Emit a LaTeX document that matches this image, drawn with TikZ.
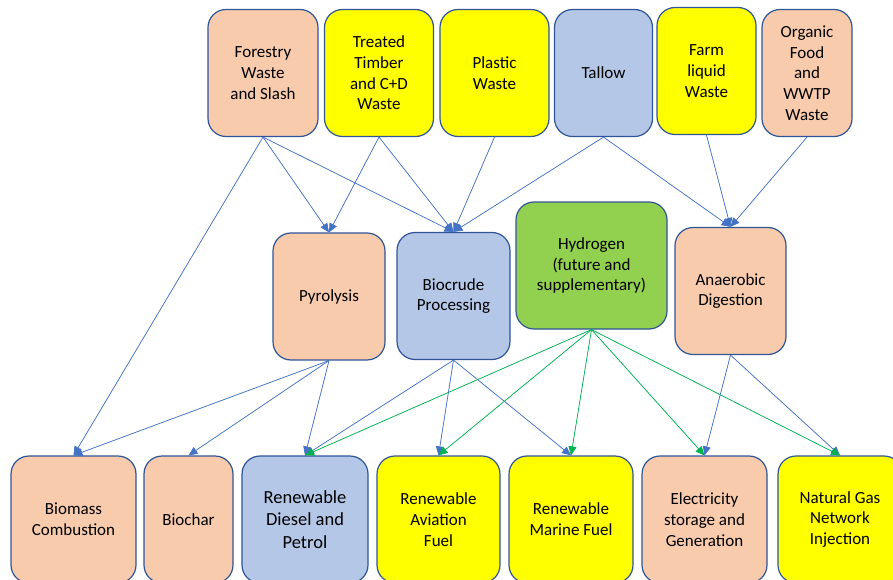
\documentclass[tikz,border=0pt]{standalone}
\usepackage{fontspec}
\setmainfont{Carlito}
\usepackage{xcolor}
\usepackage{tikz}
\usetikzlibrary{arrows.meta}

\definecolor{salmon}{RGB}{248,203,173}
\definecolor{lemon}{RGB}{255,255,0}
\definecolor{steel}{RGB}{180,199,231}
\definecolor{leaf}{RGB}{146,208,80}
\definecolor{edge}{RGB}{47,85,151}
\definecolor{flowblue}{RGB}{68,114,196}
\definecolor{flowgreen}{RGB}{0,176,80}

\begin{document}
\begin{tikzpicture}[
x=1pt,y=-1pt,
box/.style={draw=edge, line width=1.2pt, rounded corners=18pt, align=center,
  inner sep=0pt, minimum height=127pt, font=\fontsize{17}{20.7}\selectfont},
flow/.style={-{Triangle[length=9pt,width=8pt]}, draw=flowblue, fill=flowblue, line width=0.7pt},
hflow/.style={-{Triangle[length=9pt,width=8pt]}, draw=flowgreen, fill=flowgreen, line width=0.7pt}
]
\useasboundingbox (0,0) rectangle (893,580);

% feedstocks
\node[box, fill=salmon, minimum width=110pt] (forest) at (263,73) {Forestry\\Waste\\and Slash};
\node[box, fill=lemon, minimum width=109pt] (timber) at (379,73) {Treated\\Timber\\and C+D\\Waste};
\node[box, fill=lemon, minimum width=109pt] (plastic) at (494.5,73) {Plastic\\Waste};
\node[box, fill=steel, minimum width=98pt] (tallow) at (603.5,73) {Tallow};
\node[box, fill=lemon, minimum width=99pt] (farm) at (706.5,71) {Farm\\liquid\\Waste};
\node[box, fill=salmon, minimum width=90pt] (organic) at (807,73) {Organic\\Food\\and\\WWTP\\Waste};

% processes
\node[box, fill=salmon, minimum width=112pt] (pyro) at (329,296.5) {Pyrolysis};
\node[box, fill=steel, minimum width=113pt] (biocrude) at (453.5,296) {Biocrude\\Processing};
\node[box, fill=leaf, minimum width=151pt] (hydro) at (591.5,265.5) {Hydrogen\\(future and\\supplementary)};
\node[box, fill=salmon, minimum width=111pt] (anaer) at (730.5,291) {Anaerobic\\Digestion};

% products
\node[box, fill=salmon, minimum width=125pt] (biomass) at (73.5,519.5) {Biomass\\Combustion};
\node[box, fill=salmon, minimum width=89pt] (biochar) at (188.5,519.5) {Biochar};
\node[box, fill=steel, minimum width=126pt, font=\fontsize{18.5}{22.7}\selectfont] (diesel) at (305,519.5) {Renewable\\Diesel and\\Petrol};
\node[box, fill=lemon, minimum width=123pt] (aviation) at (438.5,519.5) {Renewable\\Aviation\\Fuel};
\node[box, fill=lemon, minimum width=124pt] (marine) at (571,519.5) {Renewable\\Marine Fuel};
\node[box, fill=salmon, minimum width=125pt] (elec) at (704.5,519.5) {Electricity\\storage and\\Generation};
\node[box, fill=lemon, minimum width=124pt] (natgas) at (840,519.5) {Natural Gas\\Network\\Injection};

% feedstock flows
\draw[flow] (forest.south) -- (biomass.north);
\draw[flow] (forest.south) -- (pyro.north);
\draw[flow] (forest.south) -- (biocrude.north);
\draw[flow] (timber.south) -- (pyro.north);
\draw[flow] (timber.south) -- (biocrude.north);
\draw[flow] (plastic.south) -- (biocrude.north);
\draw[flow] (tallow.south) -- (biocrude.north);
\draw[flow] (tallow.south) -- (anaer.north);
\draw[flow] (farm.south) -- (anaer.north);
\draw[flow] (organic.south) -- (anaer.north);

% product flows
\draw[flow] (pyro.south) -- (biomass.north);
\draw[flow] (pyro.south) -- (biochar.north);
\draw[flow] (pyro.south) -- (diesel.north);
\draw[flow] (biocrude.south) -- (diesel.north);
\draw[flow] (biocrude.south) -- (aviation.north);
\draw[flow] (biocrude.south) -- (marine.north);
\draw[flow] (anaer.south) -- (elec.north);
\draw[flow] (anaer.south) -- (natgas.north);

% hydrogen
\draw[hflow] (hydro.south) -- (diesel.north);
\draw[hflow] (hydro.south) -- (aviation.north);
\draw[hflow] (hydro.south) -- (marine.north);
\draw[hflow] (hydro.south) -- (elec.north);
\draw[hflow] (hydro.south) -- (natgas.north);
\end{tikzpicture}
\end{document}
